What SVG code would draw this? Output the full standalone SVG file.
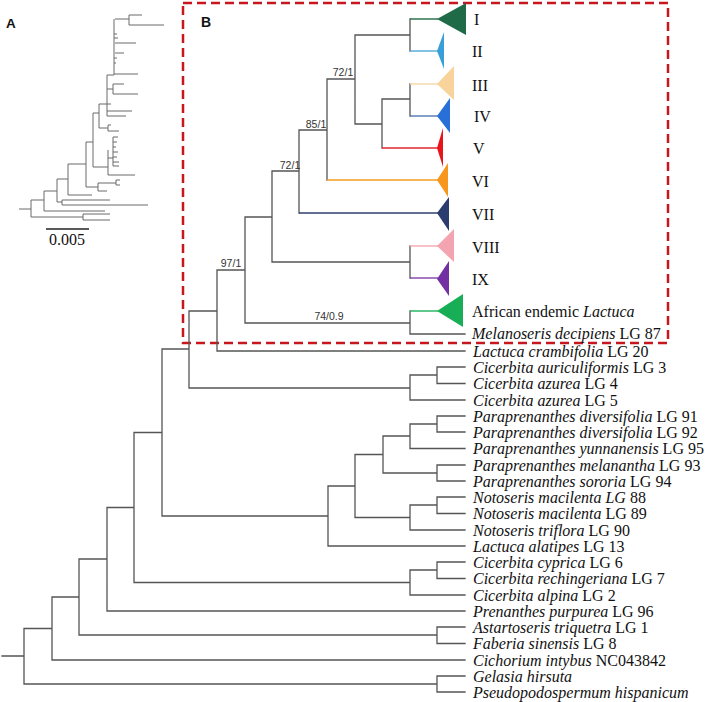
<svg xmlns="http://www.w3.org/2000/svg" width="708" height="702" viewBox="0 0 708 702">
<style>
.br{fill:none;stroke:#555;stroke-width:1.3;stroke-linecap:square}
.cl{fill:none;stroke-width:1.4}
.ins{fill:none;stroke:#6a6a6a;stroke-width:1}
.lab{font-family:"Liberation Serif","Times New Roman",serif;font-size:16px;fill:#111}
.it{font-style:italic}
.sup{font-family:"Liberation Sans",Arial,sans-serif;font-size:10.5px;fill:#333;text-anchor:middle}
.pl{font-family:"Liberation Sans",Arial,sans-serif;font-weight:bold;fill:#111}
</style>
<rect width="708" height="702" fill="#fff"/>
<g id="inset-A">
<text class="pl" x="6" y="28" font-size="13.5">A</text>
<path class="ins" d="M19,209H31M31,200V217M31,217H83M83,214V220M83,214H110M83,220H110M31,200H44M44,191V211M44,211H105M44,191H57M57,179V202M57,202H62M62,200V205M62,200H110M62,205H148M57,179H68M68,164V195M68,195H92M68,164H86M86,142V187M86,187H98M98,183V191M98,191H107M98,183H116M116,180V185M116,180H120M116,185H120M86,142H93M93,113V167M93,167H108M108,150V175M108,175H135M108,158H113M113,137V166M113,137H118M113,142H117M113,147H116M113,152H118M113,157H117M113,162H119M113,166H119M93,113H99M99,104V128M99,128H108M108,125V131M108,125H111M108,131H119M99,104H107M107,75V116M107,111H132M107,116H126M107,104H111M107,89H113M113,84V94M113,84H124M113,94H138M107,75H114M114,19V75M114,74H138M115,53H124M115,43H136M114,34H117M114,38H118M114,58H117M114,63H116M115,19H129M129,15V25M129,15H142M129,25H164"/>
<path d="M46,229H89" stroke="#222" stroke-width="1.3"/>
<text class="lab" x="67" y="245" font-size="15" text-anchor="middle">0.005</text>
</g>
<rect id="highlight-box" x="183" y="3" width="485" height="340" fill="none" stroke="#c8161e" stroke-width="2.5" stroke-dasharray="9,5"/>
<text id="label-B" class="pl" x="201" y="27" font-size="14">B</text>
<g id="connectors">
<path class="br" d="M355,35H410M410,19V51M355,35V124M327,79H355M355,124H382M382,99V148M382,99H410M410,84V116M327,79V180M299,130H327M299,130V213M272,171H299M272,171V262M245,217H272M272,262H410M410,246V278M245,217V323M217,270H245M245,323H410M410,311V334M410,334H465M217,270V351M217,351H465M189,311H217M189,311V388M162,349H189M189,388H410M410,375V400M410,375H437M437,367V383.5M437,367H465M437,383.5H465M410,400H465M162,349V516M134,432.5H162M162,516H328M328,486V546M328,486H355M328,546H465M355,454.5V517.5M355,454.5H383M383,436V473M383,436H410M410,424V448.5M410,424H437M437,416V432M437,416H465M437,432H465M410,448.5H465M383,473H437M437,465V481M437,465H465M437,481H465M355,517.5H410M410,505V530M410,505H437M437,497V513.5M437,497H465M437,513.5H465M410,530H465M134,432.5V582.5M107,507.5H134M134,582.5H410M410,570V595M410,570H437M437,562V578.5M437,562H465M437,578.5H465M410,595H465M107,507.5V611M107,611H465M79,559H107M79,559V635M52,597H79M79,635H437M437,627V643.5M437,627H465M437,643.5H465M52,597V660M52,660H465M24,628.5H52M24,628.5V684M24,684H437M437,676V692M437,676H465M437,692H465M2,656H24"/>
<path class="cl" stroke="#1f6b47" d="M410,19H438"/>
<path class="cl" stroke="#4fa8dc" d="M410,51H438"/>
<path class="cl" stroke="#f5d7a6" d="M410,84H438"/>
<path class="cl" stroke="#5078b0" d="M410,116H438"/>
<path class="cl" stroke="#e3262b" d="M382,148H438"/>
<path class="cl" stroke="#f59c1f" d="M327,180H438"/>
<path class="cl" stroke="#2f4170" d="M299,213H438"/>
<path class="cl" stroke="#f2a6b2" d="M410,246H438"/>
<path class="cl" stroke="#8040a8" d="M410,278H438"/>
<path class="cl" stroke="#1fb25d" d="M410,311H438"/>
</g>
<g id="support-values">
<text class="sup" x="343" y="76">72/1</text>
<text class="sup" x="316" y="127.5">85/1</text>
<text class="sup" x="290" y="168.5">72/1</text>
<text class="sup" x="231" y="267">97/1</text>
<text class="sup" x="329" y="320">74/0.9</text>
</g>
<g id="clade-I"><polygon points="437,19 466,3 466,35" fill="#1f6b47"/><text class="lab" x="474" y="24.5">I</text></g>
<g id="clade-II"><polygon points="437,51 444,32 444,69" fill="#3a9fd9"/><text class="lab" x="472" y="57">II</text></g>
<g id="clade-III"><polygon points="437,84 454,66 454,100" fill="#f8d39b"/><text class="lab" x="472" y="90.5">III</text></g>
<g id="clade-IV"><polygon points="437,116 450,98 450,133" fill="#2870d8"/><text class="lab" x="474" y="121.5">IV</text></g>
<g id="clade-V"><polygon points="437,148 443,128 443,167" fill="#e8141b"/><text class="lab" x="473" y="154">V</text></g>
<g id="clade-VI"><polygon points="437,180 448,163 448,197" fill="#f7961c"/><text class="lab" x="472" y="186.5">VI</text></g>
<g id="clade-VII"><polygon points="437,213 449,197 449,231" fill="#2b3d6e"/><text class="lab" x="472" y="219.5">VII</text></g>
<g id="clade-VIII"><polygon points="437,246 454,229 454,262" fill="#f4a3b0"/><text class="lab" x="472" y="252.5">VIII</text></g>
<g id="clade-IX"><polygon points="437,279 449,261 449,296" fill="#7330a2"/><text class="lab" x="472" y="285">IX</text></g>
<g id="clade-african"><polygon points="437,311 463,294 463,327" fill="#17ae55"/><text class="lab" x="472" y="316.5">African endemic <tspan class="it">Lactuca</tspan></text></g>
<g id="leaf-melanoseris"><text class="lab" x="472" y="339"><tspan class="it">Melanoseris decipiens</tspan> LG 87</text></g>
<g id="leaf-crambifolia"><text class="lab" x="473" y="356.5"><tspan class="it">Lactuca crambifolia</tspan> LG 20</text></g>
<g id="leaf-auriculiformis"><text class="lab" x="473" y="372.5"><tspan class="it">Cicerbita auriculiformis</tspan> LG 3</text></g>
<g id="leaf-azurea4"><text class="lab" x="473" y="389"><tspan class="it">Cicerbita azurea</tspan> LG 4</text></g>
<g id="leaf-azurea5"><text class="lab" x="473" y="405.5"><tspan class="it">Cicerbita azurea</tspan> LG 5</text></g>
<g id="leaf-pdiv91"><text class="lab" x="473" y="421.5"><tspan class="it">Paraprenanthes diversifolia</tspan> LG 91</text></g>
<g id="leaf-pdiv92"><text class="lab" x="473" y="437.5"><tspan class="it">Paraprenanthes diversifolia</tspan> LG 92</text></g>
<g id="leaf-pyun95"><text class="lab" x="473" y="454"><tspan class="it">Paraprenanthes yunnanensis</tspan> LG 95</text></g>
<g id="leaf-pmel93"><text class="lab" x="473" y="470.5"><tspan class="it">Paraprenanthes melanantha</tspan> LG 93</text></g>
<g id="leaf-psor94"><text class="lab" x="473" y="486.5"><tspan class="it">Paraprenanthes sororia</tspan> LG 94</text></g>
<g id="leaf-nmac88"><text class="lab" x="473" y="502.5"><tspan class="it">Notoseris macilenta LG</tspan> 88</text></g>
<g id="leaf-nmac89"><text class="lab" x="473" y="519"><tspan class="it">Notoseris macilenta</tspan> LG 89</text></g>
<g id="leaf-ntri90"><text class="lab" x="473" y="535.5"><tspan class="it">Notoseris triflora</tspan> LG 90</text></g>
<g id="leaf-lala13"><text class="lab" x="473" y="551.5"><tspan class="it">Lactuca alatipes</tspan> LG 13</text></g>
<g id="leaf-ccyp6"><text class="lab" x="473" y="567.5"><tspan class="it">Cicerbita cyprica</tspan> LG 6</text></g>
<g id="leaf-crec7"><text class="lab" x="473" y="584"><tspan class="it">Cicerbita rechingeriana</tspan> LG 7</text></g>
<g id="leaf-calp2"><text class="lab" x="473" y="600.5"><tspan class="it">Cicerbita alpina</tspan> LG 2</text></g>
<g id="leaf-ppur96"><text class="lab" x="473" y="616.5"><tspan class="it">Prenanthes purpurea</tspan> LG 96</text></g>
<g id="leaf-atri1"><text class="lab" x="473" y="632.5"><tspan class="it">Astartoseris triquetra</tspan> LG 1</text></g>
<g id="leaf-fsin8"><text class="lab" x="473" y="649"><tspan class="it">Faberia sinensis</tspan> LG 8</text></g>
<g id="leaf-cint"><text class="lab" x="473" y="665.5"><tspan class="it">Cichorium intybus</tspan> NC043842</text></g>
<g id="leaf-ghir"><text class="lab" x="473" y="681.5"><tspan class="it">Gelasia hirsuta</tspan></text></g>
<g id="leaf-phis"><text class="lab" x="473" y="697.5"><tspan class="it">Pseudopodospermum hispanicum</tspan></text></g>
</svg>
